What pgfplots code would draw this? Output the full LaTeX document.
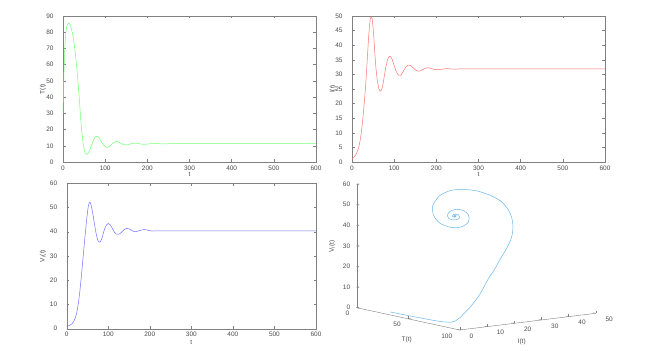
\documentclass[border=0pt]{standalone}
\usepackage{pgfplots}
\usepackage{pgfplotstable}
\usepackage{fontspec}
\setmainfont{Liberation Sans}
\pgfplotsset{compat=1.18}

\pgfplotstableread{
t T I V
0 30 1 1
2 52 1.2 1.1
4 68 1.5 1.2
6 77 1.9 1.3
8 82 2.3 1.5
10 84.5 2.8 1.7
13 85.5 3.8 2.1
16 85 5 2.8
18 83.8 6.4 3.4
20 82 8 4.2
22 79.8 10 5.2
24 77 12.5 6.5
26 73.8 15.3 8.3
28 70 18.5 10.5
30 65.3 21.8 13
32 60 25.5 16
34 54.3 30 19.4
36 48 34.5 23
38 41.2 39.5 26.8
40 34 44 30.5
42 26.8 47.3 34.3
44 20 49.4 38
46 15.5 49.7 41.5
48 11 48.8 45
50 8 46 48
52 5.8 42 50.5
54 4.9 37.6 51.8
56 4.7 33.5 52.2
58 5 30.4 51.4
60 5.6 28 50
64 7.8 25 46.3
68 10.5 24.3 42
72 13.2 25.6 38.3
76 15.2 28.8 36
80 16 32.3 35.7
85 15.2 35.3 37.5
90 13 36.2 40.5
95 10.8 35.2 42.6
100 9.4 33 43.4
105 9.0 31 42.8
110 9.5 29.8 41.3
115 10.8 29.7 39.8
120 12 30.6 39
126 12.7 32.2 39
132 12.3 33.2 39.8
138 11.4 33.1 40.9
144 10.7 32.4 41.4
150 10.5 31.6 41.2
156 10.8 31.1 40.6
162 11.3 31.2 40.1
168 11.6 31.7 40.1
174 11.6 32.1 40.4
180 11.3 32.3 40.7
186 11.0 32.1 40.9
192 10.9 31.8 40.8
198 11.0 31.6 40.5
205 11.2 31.6 40.3
215 11.4 31.8 40.4
225 11.3 32.0 40.4
240 11.2 31.8 40.4
260 11.3 31.9 40.4
300 11.3 31.9 40.4
400 11.3 31.9 40.4
500 11.3 31.9 40.4
600 11.3 31.9 40.4
}\data

\definecolor{axgray}{gray}{0.5}
\definecolor{txtgray}{gray}{0.3}
\definecolor{lgreen}{rgb}{0.45,1,0.45}
\definecolor{lred}{rgb}{1,0.45,0.45}
\definecolor{lblue}{rgb}{0.45,0.45,1}
\definecolor{mblue}{rgb}{0.42,0.72,0.92}

\pgfplotsset{
  ml/.style={
    scale only axis,
    enlargelimits=false,
    axis line style={draw=axgray, line width=0.4bp},
    tick style={draw=axgray, line width=0.4bp},
    tick align=inside,
    major tick length=2.5bp,
    ticklabel style={font=\fontsize{6.5}{7}\selectfont, text=txtgray},
    label style={font=\fontsize{6.5}{7}\selectfont, text=txtgray},
    /pgf/number format/assume math mode=true,
    yticklabel style={xshift=-6bp},
    xmin=0, xmax=600,
    xtick={0,100,...,600},
  },
  ml3/.style={
    axis line style={draw=axgray, line width=0.4bp},
    tick style={draw=axgray, line width=0.4bp},
    major tick length=2.5bp,
    ticklabel style={font=\fontsize{6.5}{7}\selectfont, text=txtgray},
    label style={font=\fontsize{6.5}{7}\selectfont, text=txtgray},
    /pgf/number format/assume math mode=true,
    xmin=0, xmax=100, ymin=0, ymax=50, zmin=0, zmax=60,
    y={(2.72bp,0.334bp)}, z={(0bp,2.06bp)},
    at={(356.7bp,43.3bp)}, anchor=origin, clip=false,
  },
}

\begin{document}
\begin{tikzpicture}
\path[use as bounding box, fill=white] (0,0) rectangle (668bp,351bp);

% top-left: T(t)
\begin{axis}[ml, at={(63bp,189bp)}, anchor=south west, width=253bp, height=146bp,
  ymin=0, ymax=90, ytick={0,10,...,90},
  xlabel={t}, ylabel={T(t)},
  xlabel style={at={(axis description cs:0.5,-0.082)}, anchor=center},
  ylabel style={at={(axis description cs:-0.079,0.5)}, anchor=center}]
\addplot[color=lgreen, line width=0.5bp, smooth, no marks] table[x=t,y=T]{\data};
\end{axis}

% top-right: I(t)
\begin{axis}[ml, at={(352bp,189bp)}, anchor=south west, width=253bp, height=146bp,
  ymin=0, ymax=50, ytick={0,5,...,50},
  xlabel={t}, ylabel={I(t)},
  xlabel style={at={(axis description cs:0.5,-0.082)}, anchor=center},
  ylabel style={at={(axis description cs:-0.075,0.5)}, anchor=center}]
\addplot[color=lred, line width=0.5bp, smooth, no marks] table[x=t,y=I]{\data};
\end{axis}

% bottom-left: V_I(t)
\begin{axis}[ml, at={(66.7bp,22.3bp)}, anchor=south west, width=249.3bp, height=145.4bp,
  ymin=0, ymax=60, ytick={0,10,...,60},
  xlabel={t}, ylabel={V\textsubscript{I}(t)},
  xlabel style={at={(axis description cs:0.5,-0.096)}, anchor=center},
  ylabel style={at={(axis description cs:-0.095,0.5)}, anchor=center}]
\addplot[color=lblue, line width=0.5bp, smooth, no marks] table[x=t,y=V]{\data};
\end{axis}

% bottom-right: 3D trajectory (T, I, V_I)
\begin{axis}[ml3,
  x={(1.03bp,-0.223bp)},
  axis x line*=left, axis z line*=left, axis y line=none,
  xtick={0,50,100}, ztick={0,10,...,60}, ytick=\empty,
  xticklabel style={anchor=north east, xshift=-4bp},
  zticklabel style={anchor=east, xshift=-3bp},
  xlabel={T(t)}, zlabel={V\textsubscript{I}(t)},
  xlabel style={at={(axis cs:48.6,0,-10.5)}, anchor=center},
  zlabel style={at={(axis cs:-23.9,0,27.1)}, anchor=center}]
\addplot3[color=mblue, line width=0.5bp, smooth, no marks] table[x=T,y=I,z=V]{\data};
\end{axis}
\begin{axis}[ml3,
  x dir=reverse, x={(-1.03bp,0.223bp)},
  axis x line=none, axis z line=none, axis y line*=left,
  ytick={0,10,...,50}, xtick=\empty, ztick=\empty,
  yticklabel style={anchor=north west, xshift=6.4bp},
  ylabel={I(t)},
  ylabel style={at={(axis cs:100,22.8,-9.5)}, anchor=center}]
\end{axis}
\end{tikzpicture}
\end{document}
